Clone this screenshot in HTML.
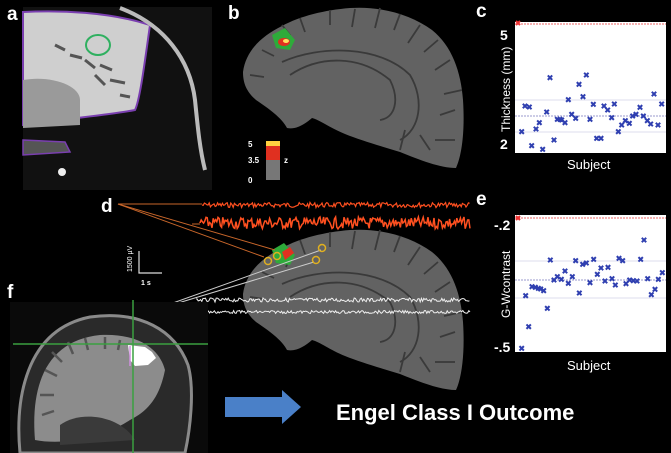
<!DOCTYPE html>
<html><head><meta charset="utf-8"><style>
html,body{margin:0;padding:0;background:#000;}
svg{display:block}
text{font-family:"Liberation Sans",sans-serif;}
</style></head><body>
<svg id="s" width="671" height="453" viewBox="0 0 671 453" xmlns="http://www.w3.org/2000/svg">
<rect width="671" height="453" fill="#000"/>
<defs>
<path id="brain" d="M243,72 C246,50 262,36 282,26 C300,16 325,10 350,8 C380,6 410,14 432,30 C452,46 461,72 463,100 C465,130 462,155 456,168 C440,168 420,160 400,152 C380,146 360,140 345,134 C330,128 320,120 312,118 C305,124 296,130 287,128 C282,118 268,108 256,100 C247,92 243,84 243,72 Z"/>
<g id="sulci" stroke="#3a3a3a" stroke-width="1.8" fill="none">
<path d="M290,75 C320,55 360,55 390,80 C400,100 395,118 380,120"/>
<path d="M282,62 C320,45 380,45 410,75 C425,100 420,130 400,140"/>
<path d="M282,25 l8,10 l-4,10 M330,10 l0,15 M380,8 l-5,20 M420,25 l-12,18 M450,60 l-15,10 M455,110 l-15,5 M455,140 l-20,0 M300,18 l5,14 M355,9 l-3,18 M400,14 l-6,16 M438,40 l-14,12 M462,90 l-18,4 M262,50 l12,6 M250,75 l14,2 M430,150 l-10,-15 M400,150 l5,-20"/>
</g>
<g id="mk"><path d="M-2.2,-2.2 L2.2,2.2 M-2.2,2.2 L2.2,-2.2" stroke="#2f3fb0" stroke-width="2"/></g>
</defs>

<!-- panel a -->
<rect x="23" y="7" width="189" height="183" fill="#111"/>
<path d="M23,12 C60,10 110,12 150,25 C145,60 140,100 135,110 C110,115 70,118 23,125 Z" fill="#cfcfcf" stroke="#7a3fb0" stroke-width="2"/>
<g stroke="#555" stroke-width="3" fill="none">
<path d="M55,45 l10,5 M70,55 l12,3 M85,60 l10,8 M100,65 l12,5 M110,80 l15,3 M120,95 l10,2 M95,75 l10,10"/>
</g>
<path d="M23,80 C50,75 80,85 80,100 L80,125 L23,128 Z" fill="#9a9a9a"/>
<path d="M23,140 L65,142 L70,152 L23,155 Z" fill="#555" stroke="#7a3fb0" stroke-width="1.5"/>
<path d="M120,8 C165,25 190,60 195,100 C198,130 200,150 205,170" stroke="#bbb" stroke-width="4" fill="none"/>
<ellipse cx="98" cy="45" rx="12" ry="10" fill="none" stroke="#2fb060" stroke-width="2"/>
<circle cx="62" cy="172" r="4" fill="#eee"/>
<text x="7" y="20" font-size="19" font-weight="bold" fill="#fff">a</text>

<!-- panel b -->
<use href="#brain" fill="#626262"/>
<use href="#sulci"/>
<path d="M272,35 L285,28 L295,40 L290,50 L276,48 Z" fill="#2eaa3a"/>
<ellipse cx="284" cy="42" rx="6" ry="4" fill="#e03020"/>
<ellipse cx="286" cy="41" rx="3" ry="2" fill="#ffe060"/>
<rect x="266" y="141" width="14" height="5" fill="#ffd040"/>
<rect x="266" y="146" width="14" height="14" fill="#e03020"/>
<rect x="266" y="160" width="14" height="20" fill="#777"/>
<text x="248" y="147" font-size="8" font-weight="bold" fill="#fff">5</text>
<text x="248" y="163" font-size="8" font-weight="bold" fill="#fff">3.5</text>
<text x="248" y="183" font-size="8" font-weight="bold" fill="#fff">0</text>
<text x="284" y="163" font-size="8" font-weight="bold" fill="#fff">z</text>
<text x="228" y="19" font-size="19" font-weight="bold" fill="#fff">b</text>

<!-- panel c -->
<text x="476" y="17" font-size="19" font-weight="bold" fill="#fff">c</text>
<rect x="515" y="22" width="151" height="131" fill="#fff"/>
<line x1="515" y1="24" x2="666" y2="24" stroke="#e66" stroke-dasharray="2,1"/>
<line x1="515" y1="100" x2="666" y2="100" stroke="#dde"/>
<line x1="515" y1="116" x2="666" y2="116" stroke="#99c" stroke-dasharray="2,1"/>
<line x1="515" y1="132" x2="666" y2="132" stroke="#dde"/>
<path d="M516,21 l4,4 M516,25 l4,-4" stroke="#e33" stroke-width="2"/>
<text x="500" y="40" font-size="14" font-weight="bold" fill="#fff">5</text>
<text x="500" y="149" font-size="14" font-weight="bold" fill="#fff">2</text>
<text transform="translate(510,132) rotate(-90)" font-size="12" fill="#fff">Thickness (mm)</text>
<text x="567" y="169" font-size="13" fill="#fff">Subject</text>
<g id="cpts"></g>

<!-- panel e -->
<text x="476" y="205" font-size="19" font-weight="bold" fill="#fff">e</text>
<rect x="515" y="215" width="151" height="137" fill="#fff"/>
<line x1="515" y1="218" x2="666" y2="218" stroke="#e66" stroke-dasharray="2,1"/>
<line x1="515" y1="261" x2="666" y2="261" stroke="#dde"/>
<line x1="515" y1="280" x2="666" y2="280" stroke="#99c" stroke-dasharray="2,1"/>
<line x1="515" y1="298" x2="666" y2="298" stroke="#dde"/>
<path d="M516,216 l4,4 M516,220 l4,-4" stroke="#e33" stroke-width="2"/>
<text x="494" y="230" font-size="14" font-weight="bold" fill="#fff">-.2</text>
<text x="494" y="352" font-size="14" font-weight="bold" fill="#fff">-.5</text>
<text transform="translate(510,318) rotate(-90)" font-size="12" fill="#fff">G-Wcontrast</text>
<text x="567" y="370" font-size="13" fill="#fff">Subject</text>
<g id="epts"></g>

<!-- panel d -->
<use href="#brain" transform="translate(0,222)" fill="#626262"/>
<use href="#sulci" transform="translate(0,222)"/>
<path d="M272,250 L284,243 L295,255 L290,265 L276,263 Z" fill="#2eaa3a"/>
<path d="M282,252 L290,247 L294,253 L285,260 Z" fill="#e03020"/>
<text x="101" y="212" font-size="19" font-weight="bold" fill="#fff">d</text>
<g stroke="#c8662a" stroke-width="1" fill="none">
<line x1="118" y1="204" x2="202" y2="204"/>
<line x1="118" y1="204" x2="264" y2="257"/>
<line x1="118" y1="204" x2="275" y2="250"/>
<line x1="192" y1="224" x2="200" y2="224"/>
</g>
<g stroke="#ccc" stroke-width="1" fill="none">
<line x1="145" y1="313" x2="314" y2="262"/>
<line x1="145" y1="313" x2="321" y2="250"/>
<line x1="145" y1="313" x2="200" y2="313"/>
</g>
<g fill="none" stroke="#e0b020" stroke-width="1.5">
<circle cx="268" cy="261" r="3.5"/><circle cx="277" cy="256" r="3.5"/>
<circle cx="316" cy="260" r="3.5"/><circle cx="322" cy="248" r="3.5"/>
</g>
<path id="tr1" fill="none" stroke="#ff5020" stroke-width="1.2"/>
<path id="tr2" fill="none" stroke="#ff5020" stroke-width="1.5"/>
<path id="tr3" fill="none" stroke="#eee" stroke-width="1"/>
<path id="tr4" fill="none" stroke="#eee" stroke-width="1"/>
<path d="M139,251 V273 H162" stroke="#ddd" stroke-width="1.2" fill="none"/>
<text transform="translate(132,272) rotate(-90)" font-size="7" fill="#fff">1500 µV</text>
<text x="141" y="285" font-size="7" fill="#fff" font-weight="bold">1 s</text>

<!-- panel f -->
<text x="7" y="298" font-size="19" font-weight="bold" fill="#fff">f</text>
<rect x="10" y="302" width="198" height="151" fill="#0a0a0a"/>
<path d="M20,453 C15,400 25,330 90,317 C140,310 175,330 188,365 C195,390 190,430 185,453 Z" fill="#2a2a2a" stroke="#8a8a8a" stroke-width="3"/>
<path d="M35,440 C30,380 50,340 100,335 C140,333 160,350 165,370 C160,395 150,410 130,420 C100,440 60,445 35,440 Z" fill="#8c8c8c"/>
<g stroke="#555" stroke-width="2.5" fill="none">
<path d="M45,370 l12,6 M52,352 l10,10 M68,342 l5,12 M85,338 l3,12 M105,337 l0,12 M120,340 l-2,10 M40,395 l14,0 M42,415 l12,-4"/>
</g>
<path d="M60,425 C80,410 120,415 135,440 L60,445 Z" fill="#3a3a3a"/>
<path d="M128,345 L145,347 L152,352 L156,358 L148,365 L135,366 L130,360 Z" fill="#fff"/>
<line x1="130" y1="346" x2="130" y2="366" stroke="#d090e0" stroke-width="1.5"/>
<line x1="13" y1="344" x2="208" y2="344" stroke="#3aa040" stroke-width="1.5"/>
<line x1="133" y1="300" x2="133" y2="453" stroke="#3aa040" stroke-width="1.5"/>

<!-- arrow + text -->
<path d="M225,397 H282 V390 L301,407 L282,424 V417 H225 Z" fill="#4a80c8"/>
<text x="336" y="420" font-size="22" font-weight="bold" fill="#fff">Engel Class I Outcome</text>
</svg>
<script>
var NS="http://www.w3.org/2000/svg";
function add(g,pts){var el=document.getElementById(g);pts.forEach(function(p){var u=document.createElementNS(NS,"use");u.setAttribute("href","#mk");u.setAttribute("x",470+p[0]/3);u.setAttribute("y",p[1]/3);el.appendChild(u);});}
add("cpts",[[155,395],[165,318],[178,321],[185,437],[198,387],[208,368],[218,448],[230,336],[240,233],[252,420],[262,358],[270,358],[275,360],[285,368],[295,299],[305,343],[317,355],[327,253],[339,290],[349,225],[360,358],[370,313],[380,415],[393,415],[402,318],[413,330],[425,353],[433,312],[445,395],[455,375],[466,362],[478,370],[488,348],[498,343],[510,322],[520,348],[532,362],[542,372],[552,282],[564,375],[575,312]]);
add("epts",[[155,1045],[167,887],[176,980],[186,860],[196,862],[205,865],[212,867],[221,872],[232,925],[241,780],[252,840],[262,830],[274,838],[285,813],[295,850],[307,830],[317,782],[328,879],[338,793],[349,789],[360,848],[371,778],[382,823],[393,804],[405,843],[414,802],[426,836],[436,855],[447,775],[458,782],[468,851],[479,840],[490,842],[501,843],[512,778],[522,720],[533,836],[544,884],[555,868],[565,838],[577,818]]);
var seed=7;function r(){seed=(seed*9301+49297)%233280;return seed/233280-0.5;}
function tr(id,x0,x1,y,a){var d="M"+x0+","+y;for(var x=x0;x<=x1;x+=1.2){d+=" L"+x.toFixed(1)+","+(y+r()*a).toFixed(1);}document.getElementById(id).setAttribute("d",d);}
tr("tr1",202,470,205,5);tr("tr2",200,470,223,12);tr("tr3",197,470,300,4);tr("tr4",200,470,312,3);
</script>
</body></html>
